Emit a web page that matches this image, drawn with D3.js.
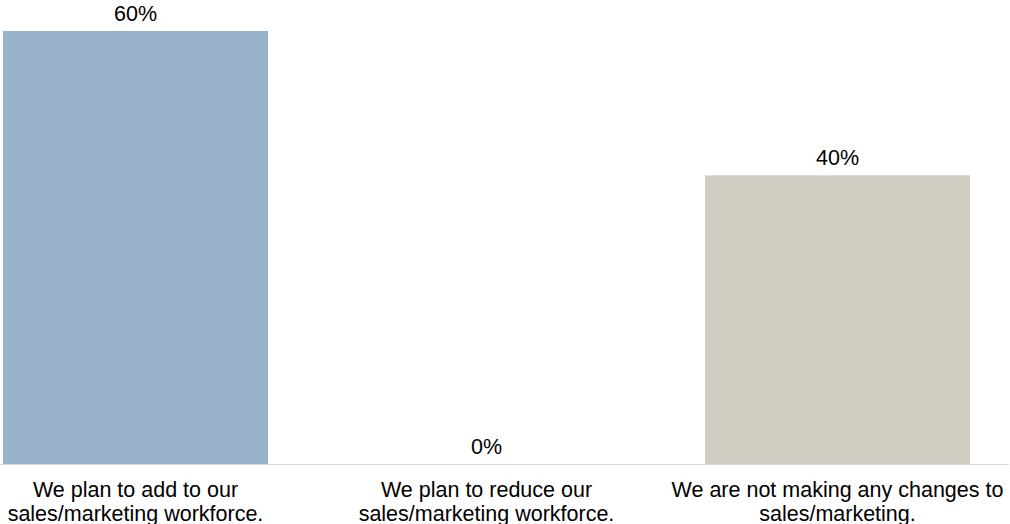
<!DOCTYPE html>
<html><head><meta charset="utf-8">
<script src="https://cdn.jsdelivr.net/npm/d3@7/dist/d3.min.js"></script>
<style>body{margin:0;background:#fff}svg{display:block}</style>
</head><body>
<script>
const categories = ["We plan to add to our\nsales/marketing workforce.", "We plan to reduce our\nsales/marketing workforce.", "We are not making any changes to\nsales/marketing."];
const values = [60, 0, 40];
const valueLabels = ["60%", "0%", "40%"];
const colors = ["#98b3cb", "#98b3cb", "#d0ccc2"];

const W = 1010, H = 524;
const svg = d3.select("body").append("svg").attr("width", W).attr("height", H);
const baseY = 464, topY = 31;
const x = d3.scaleBand().domain(d3.range(categories.length)).range([3, 970]).paddingInner(0.245).paddingOuter(0);
const y = d3.scaleLinear().domain([0, 60]).range([baseY, topY]);
const font = "'Liberation Sans', Arial, sans-serif";

svg.selectAll("rect.bar").data(values).join("rect").attr("class","bar")
  .attr("x", (d,i) => x(i)).attr("width", x.bandwidth())
  .attr("y", d => y(d)).attr("height", d => baseY - y(d))
  .attr("fill", (d,i) => colors[i]);

svg.append("line").attr("x1", 0).attr("x2", 1009).attr("y1", baseY + 0.5).attr("y2", baseY + 0.5)
  .attr("stroke", "#d9d9d9").attr("stroke-width", 1);

svg.selectAll("text.val").data(values).join("text").attr("class","val")
  .attr("x", (d,i) => x(i) + x.bandwidth()/2).attr("y", d => y(d) - 10.5)
  .attr("text-anchor", "middle").attr("font-family", font).attr("font-size", 21.5).attr("fill", "#000")
  .text((d,i) => valueLabels[i]);

const cat = svg.selectAll("text.cat").data(categories).join("text").attr("class","cat")
  .attr("text-anchor", "middle").attr("font-family", font).attr("font-size", 21.5).attr("fill", "#000");
cat.each(function(d,i){
  const t = d3.select(this);
  d.split("\n").forEach((line, j) => {
    t.append("tspan").attr("x", x(i) + x.bandwidth()/2).attr("y", 497 + j*24).text(line);
  });
});
</script>
</body></html>
